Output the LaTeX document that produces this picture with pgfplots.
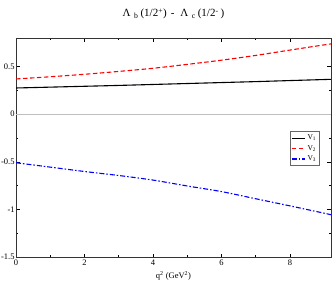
\documentclass[border=0pt]{standalone}
\usepackage{fontspec}
\setmainfont{Liberation Serif}
\usepackage{pgfplots}
\pgfplotsset{compat=1.18}
\begin{document}
\begin{tikzpicture}
\useasboundingbox (0,0) rectangle (332pt,282pt);
\begin{axis}[
  at={(16pt,25pt)}, anchor=south west,
  scale only axis, width=315pt, height=219pt,
  xmin=0, xmax=9.2, ymin=-1.5, ymax=0.8,
  xtick={0,2,4,6,8}, ytick={-1.5,-1,-0.5,0,0.5},
  minor x tick num=1, minor y tick num=1,
  tick align=inside, major tick length=3.5pt, minor tick length=2pt,
  every tick/.style={black, line width=0.5pt},
  axis line style={black!80, line width=0.7pt},
  /pgf/number format/assume math mode=true,
  ticklabel style={font=\fontsize{8.5}{9}\selectfont},
  yticklabel style={inner sep=1.2pt},
  xticklabel style={inner sep=2.5pt},
  xlabel={q\textsuperscript{2} (GeV\textsuperscript{2})},
  xlabel style={at={(axis description cs:0.5,0)}, anchor=center, yshift=-19pt, font=\fontsize{8.5}{9}\selectfont},
  legend style={at={(0.965,0.575)}, anchor=north east, draw=black!60, line width=0.8pt,
    font=\fontsize{7.5}{9}\selectfont, inner sep=1.5pt, row sep=0pt},
  legend cell align=left,
  legend image code/.code={\draw[#1] (0pt,0pt) -- (13pt,0pt);},
]
\addplot[black!25, line width=0.8pt, forget plot] coordinates {(0,0) (9.2,0)};
\addplot[black, line width=1.1pt, smooth] coordinates {
(0,0.275) (1,0.284) (2,0.293) (3,0.302) (4,0.312) (5,0.322) (6,0.332) (7,0.342) (8,0.353) (9.2,0.366)};
\addlegendentry{V\textsubscript{1}}
\addplot[red, line width=1.1pt, smooth, dash pattern=on 4.5pt off 2.5pt] coordinates {
(0,0.370) (1,0.393) (2,0.419) (3,0.449) (4,0.482) (5,0.523) (6,0.567) (7,0.617) (8,0.673) (9,0.728) (9.2,0.738)};
\addlegendentry{V\textsubscript{2}}
\addplot[blue, line width=1.1pt, smooth, dash pattern=on 5pt off 2pt on 1.5pt off 2pt] coordinates {
(0,-0.510) (1,-0.556) (2,-0.602) (3,-0.644) (4,-0.692) (5,-0.754) (6,-0.813) (7,-0.888) (8,-0.963) (9,-1.040) (9.2,-1.056)};
\addlegendentry{V\textsubscript{3}}
\end{axis}
\node[font=\fontsize{11}{12}\selectfont, anchor=center] at ([yshift=24pt]current axis.north)
  {Λ\hspace{3.5pt}\textsubscript{b}\hspace{2pt}(1/2\textsuperscript{+})\hspace{4pt}-\hspace{6pt}Λ\hspace{3.5pt}\textsubscript{c}\hspace{2pt}(1/2\textsuperscript{-}\hspace{2pt})};
\end{tikzpicture}
\end{document}
